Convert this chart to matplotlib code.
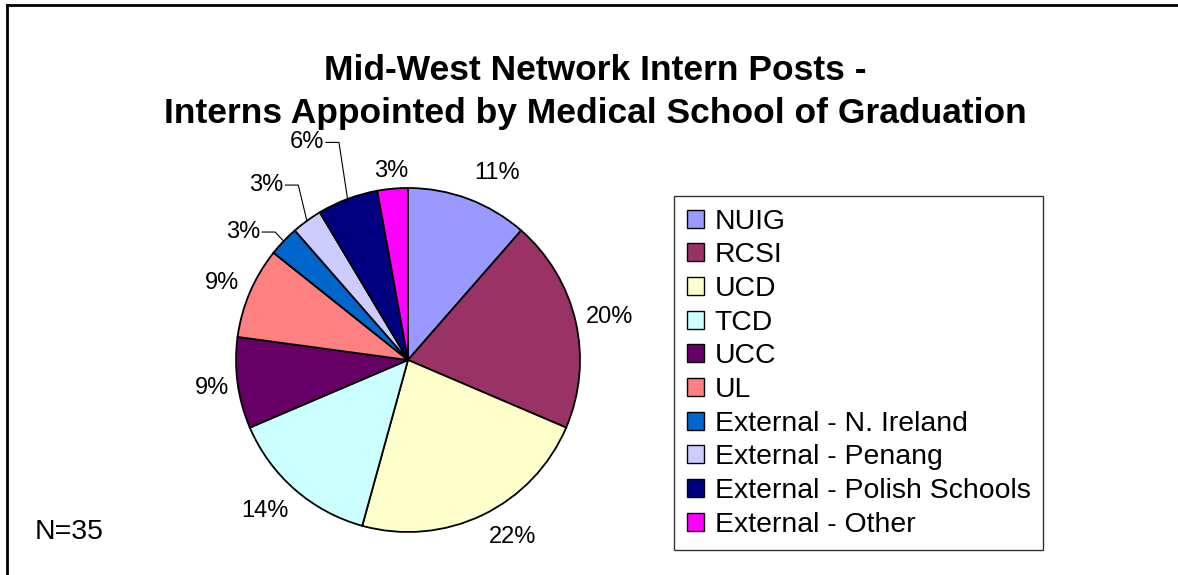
import matplotlib
matplotlib.use("Agg")
import matplotlib.pyplot as plt
import numpy as np
from matplotlib.lines import Line2D

plt.rcParams['font.family'] = ['Liberation Sans', 'DejaVu Sans']

# ---- data ----
schools = ["NUIG", "RCSI", "UCD", "TCD", "UCC", "UL",
           "External - N. Ireland", "External - Penang",
           "External - Polish Schools", "External - Other"]
interns = [4, 7, 8, 5, 3, 3, 1, 1, 2, 1]
pct_labels = ["11%", "20%", "22%", "14%", "9%", "9%", "3%", "3%", "6%", "3%"]
colors = ["#9999FF", "#993366", "#FFFFCC", "#CCFFFF", "#660066",
          "#FF8080", "#0066CC", "#CCCCFF", "#000080", "#FF00FF"]
title_lines = ["Mid-West Network Intern Posts -",
               "Interns Appointed by Medical School of Graduation"]
n_text = "N=35"

W, H = 1178, 575
fig = plt.figure(figsize=(W / 100, H / 100), dpi=100)

# figure frame (top and left edges visible)
fig.add_artist(Line2D([7 / W, 1.0], [1 - 5 / H, 1 - 5 / H], transform=fig.transFigure,
                      color="black", lw=2.0))
fig.add_artist(Line2D([7 / W, 7 / W], [0.0, 1 - 5 / H], transform=fig.transFigure,
                      color="black", lw=2.0))

# pie axes
cx, cy, r = 408, 360, 172
ax = fig.add_axes([(cx - r) / W, (H - cy - r) / H, 2 * r / W, 2 * r / H])
wedges, _ = ax.pie(interns, colors=colors, startangle=90, counterclock=False,
                   radius=1.0,
                   wedgeprops=dict(edgecolor="black", linewidth=1.3))
ax.set_xlim(-1, 1)
ax.set_ylim(-1, 1)
ax.set_aspect("equal")
ax.axis("off")

# label placement (layout, in radius units)
label_pos = {0: (0.52, 1.09), 1: (1.17, 0.25), 2: (0.61, -1.03),
             3: (-0.83, -0.88), 4: (-1.14, -0.16), 5: (-1.08, 0.45),
             9: (-0.10, 1.10)}
leader_y = {6: 0.744, 7: 1.017, 8: 1.265}
lab_fs = 17

for i, w in enumerate(wedges):
    theta = np.deg2rad((w.theta1 + w.theta2) / 2)
    px, py = np.cos(theta), np.sin(theta)
    if i in label_pos:
        x, y = label_pos[i]
        ax.text(x, y, pct_labels[i], ha="center", va="center", fontsize=lab_fs,
                clip_on=False)
    else:
        ly = leader_y[i]
        ex = px - 0.05
        tx = ex - 0.085
        ax.add_line(Line2D([px, ex, tx + 0.01], [py, ly, ly], color="black",
                           lw=0.8, clip_on=False))
        ax.text(tx, ly, pct_labels[i], ha="right", va="center", fontsize=lab_fs,
                clip_on=False)

# title
fig.text(0.505, 1 - 71 / H, title_lines[0], ha="center", va="center",
         fontsize=25.5, fontweight="bold")
fig.text(0.505, 1 - 114 / H, title_lines[1], ha="center", va="center",
         fontsize=25.5, fontweight="bold")

# N text
fig.text(35 / W, 1 - 532 / H, n_text, ha="left", va="center", fontsize=20.5)

# legend
leg = fig.legend(wedges, schools, loc="upper left",
                 bbox_to_anchor=(674 / W, 1 - 196 / H),
                 fontsize=20.4, frameon=True, fancybox=False, shadow=False,
                 handlelength=0.6, handleheight=0.6, handletextpad=0.38,
                 labelspacing=0.27, borderpad=0.45, borderaxespad=0)
leg.get_frame().set_edgecolor("black")
leg.get_frame().set_linewidth(1.0)
for h in leg.legend_handles:
    h.set_edgecolor("black")
    h.set_linewidth(1.0)

fig.savefig("out.png", dpi=100, facecolor="white")
